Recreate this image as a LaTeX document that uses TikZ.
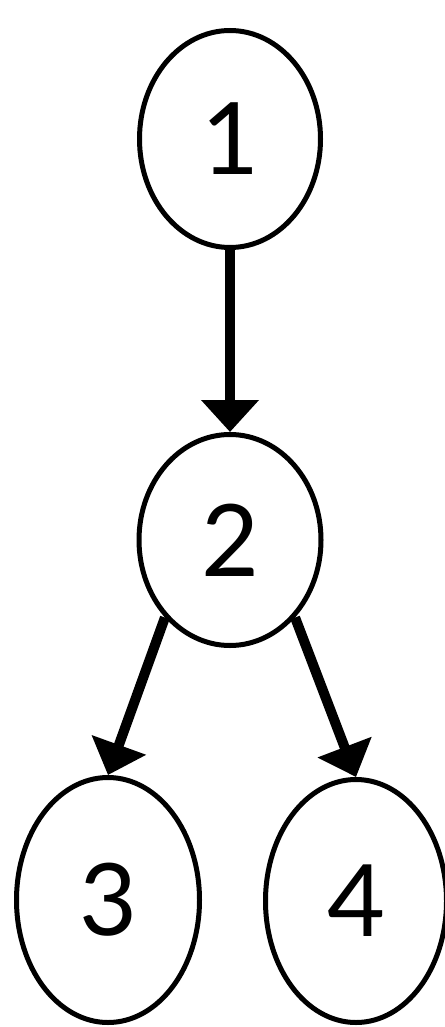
\documentclass[tikz,border=0pt]{standalone}
\usepackage{fontspec}
\setmainfont{Lato}
\usetikzlibrary{shapes.geometric,arrows.meta}
\begin{document}
\begin{tikzpicture}[x=1pt,y=-1pt,
  vert/.style={ellipse,draw=black,line width=5pt,inner sep=0pt,
    font=\fontsize{100}{100}\selectfont},
  edge/.style={line width=10pt,-{Triangle[width=56pt,length=32pt]}}]
\useasboundingbox (0,0) rectangle (444,1027);
\node[vert,minimum width=181pt,minimum height=217pt] (n1) at (230,139) {1};
\node[vert,minimum width=182pt,minimum height=211pt] (n2) at (230,540) {2};
\node[vert,minimum width=183pt,minimum height=245pt] (n3) at (108,900) {3};
\node[vert,minimum width=181pt,minimum height=243pt] (n4) at (356,901) {4};
\draw[edge] (n1.south) -- (n2.north);
\draw[edge] (n2.230) -- (n3.north);
\draw[edge] (n2.310) -- (n4.north);
\end{tikzpicture}
\end{document}
